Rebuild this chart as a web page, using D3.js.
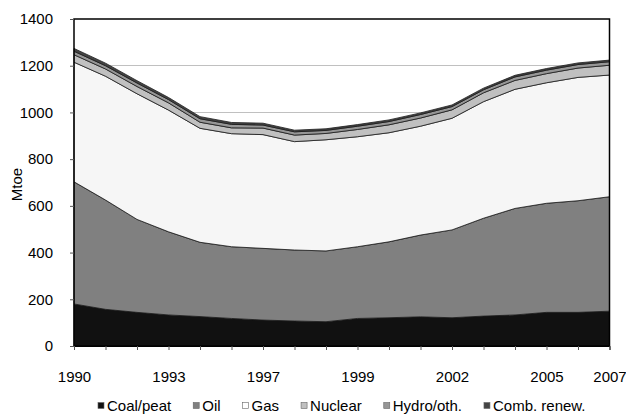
<!DOCTYPE html>
<html>
<head>
<meta charset="utf-8">
<script src="https://cdn.jsdelivr.net/npm/d3@7"></script>
<style>
  html, body { margin: 0; padding: 0; background: #fff; }
  svg { display: block; font-family: "Liberation Sans", Arial, sans-serif; }
</style>
</head>
<body>
<svg id="chart" width="626" height="415"></svg>
<script>
// ---- data ----
const years = [1990,1991,1992,1993,1994,1995,1996,1997,1998,1999,2000,2001,2002,2003,2004,2005,2006,2007];
const coal    = [180,157,144,133,126,118,111,107,104,118,121,125,121,128,133,144,144,149];
const oil     = [523,468,398,356,318,307,307,304,303,307,325,350,376,419,456,467,478,490];
const gas     = [512,530,538,521,488,484,487,464,476,471,467,466,478,499,510,516,528,521];
const nuclear = [32,31,31,31,26,25,28,28,27,31,34,35,36,38,38,39,40,42];
const hydro   = [15,14,15,14,15,15,13,14,13,14,14,15,14,13,15,15,15,15];
const renew   = [12,11,10,9,9,8,8,7,7,7,7,7,7,7,7,7,7,7];
const seriesNames = ["Coal/peat","Oil","Gas","Nuclear","Hydro/oth.","Comb. renew."];
const seriesColors = ["#111111","#808080","#f6f6f6","#c0c0c0","#969696","#444444"];
const yTicks = [0,200,400,600,800,1000,1200,1400];
const xTickYears = [1990,1993,1996,1999,2002,2005,2007];
const xTickLabels = ["1990","1993","1997","1999","2002","2005","2007"];
const yTitle = "Mtoe";

// ---- layout ----
const svg = d3.select("#chart");
const L = 74, R = 609.5, T = 19, B = 346;
const FS = 15;

const x = d3.scaleLinear().domain([1990, 2007]).range([L, R]);
const y = d3.scaleLinear().domain([0, 1400]).range([B, T]);

const table = years.map((yr, i) => ({
  year: yr,
  s0: coal[i], s1: oil[i], s2: gas[i], s3: nuclear[i], s4: hydro[i], s5: renew[i]
}));
const keys = ["s0","s1","s2","s3","s4","s5"];
const stacked = d3.stack().keys(keys)(table);

// gridlines
svg.append("g").selectAll("line").data(yTicks.filter(v => v > 0 && v < 1400)).join("line")
  .attr("x1", L).attr("x2", R)
  .attr("y1", d => y(d)).attr("y2", d => y(d))
  .attr("stroke", "#c0c0c0").attr("stroke-width", 1)
  .attr("shape-rendering", "crispEdges");

// areas
const area = d3.area()
  .x(d => x(d.data.year))
  .y0(d => y(d[0]))
  .y1(d => y(d[1]));

svg.append("g").selectAll("path").data(stacked).join("path")
  .attr("d", area)
  .attr("fill", (d, i) => seriesColors[i])
  .attr("stroke", "#1a1a1a")
  .attr("stroke-width", 0.8)
  .attr("stroke-linejoin", "round");

// frame
svg.append("rect")
  .attr("x", L).attr("y", T).attr("width", R - L).attr("height", B - T)
  .attr("fill", "none").attr("stroke", "#000").attr("stroke-width", 1.5);

// y axis
const yAxis = svg.append("g").attr("transform", `translate(${L},0)`)
  .call(d3.axisLeft(y).tickValues(yTicks).tickSize(4).tickPadding(17).tickFormat(d3.format("d")));
yAxis.select(".domain").remove();
yAxis.selectAll("line").attr("stroke", "#555");
yAxis.selectAll("text").attr("font-size", FS).attr("fill", "#000").attr("font-family", "Liberation Sans, Arial, sans-serif");

// x axis tick marks
const xAxisTicks = svg.append("g").attr("transform", `translate(0,${B})`)
  .call(d3.axisBottom(x).tickValues(years).tickSize(4).tickFormat(""));
xAxisTicks.select(".domain").attr("stroke", "#000");
xAxisTicks.selectAll("line").attr("stroke", "#555");

// x axis labels
const xAxisLabels = svg.append("g").attr("transform", `translate(0,${B})`)
  .call(d3.axisBottom(x).tickValues(xTickYears).tickSize(0).tickPadding(25)
    .tickFormat((d, i) => xTickLabels[i]));
xAxisLabels.select(".domain").remove();
xAxisLabels.selectAll("text").attr("font-size", FS).attr("fill", "#000").attr("font-family", "Liberation Sans, Arial, sans-serif");

// y title
svg.append("text")
  .attr("transform", `translate(22,${(T + B) / 2 + 2}) rotate(-90)`)
  .attr("text-anchor", "middle")
  .attr("font-size", FS)
  .text(yTitle);

// legend
const legend = svg.append("g");
const items = legend.selectAll("g").data(seriesNames).join("g");
items.append("rect")
  .attr("width", 6).attr("height", 6)
  .attr("y", 402.5)
  .attr("fill", (d, i) => seriesColors[i] === "#f6f6f6" ? "#ffffff" : seriesColors[i])
  .attr("stroke", "#666").attr("stroke-width", 0.6);
items.append("text")
  .attr("x", 9).attr("y", 410.5)
  .attr("font-size", FS)
  .text(d => d);
let cx = 0;
const gap = 22;
const widths = [];
items.each(function() {
  const w = 9 + d3.select(this).select("text").node().getComputedTextLength();
  widths.push(w);
});
const totalW = d3.sum(widths) + gap * (widths.length - 1);
let start = (L + R) / 2 - totalW / 2;
items.attr("transform", (d, i) => {
  const tx = start;
  start += widths[i] + gap;
  return `translate(${tx},0)`;
});
</script>
</body>
</html>
